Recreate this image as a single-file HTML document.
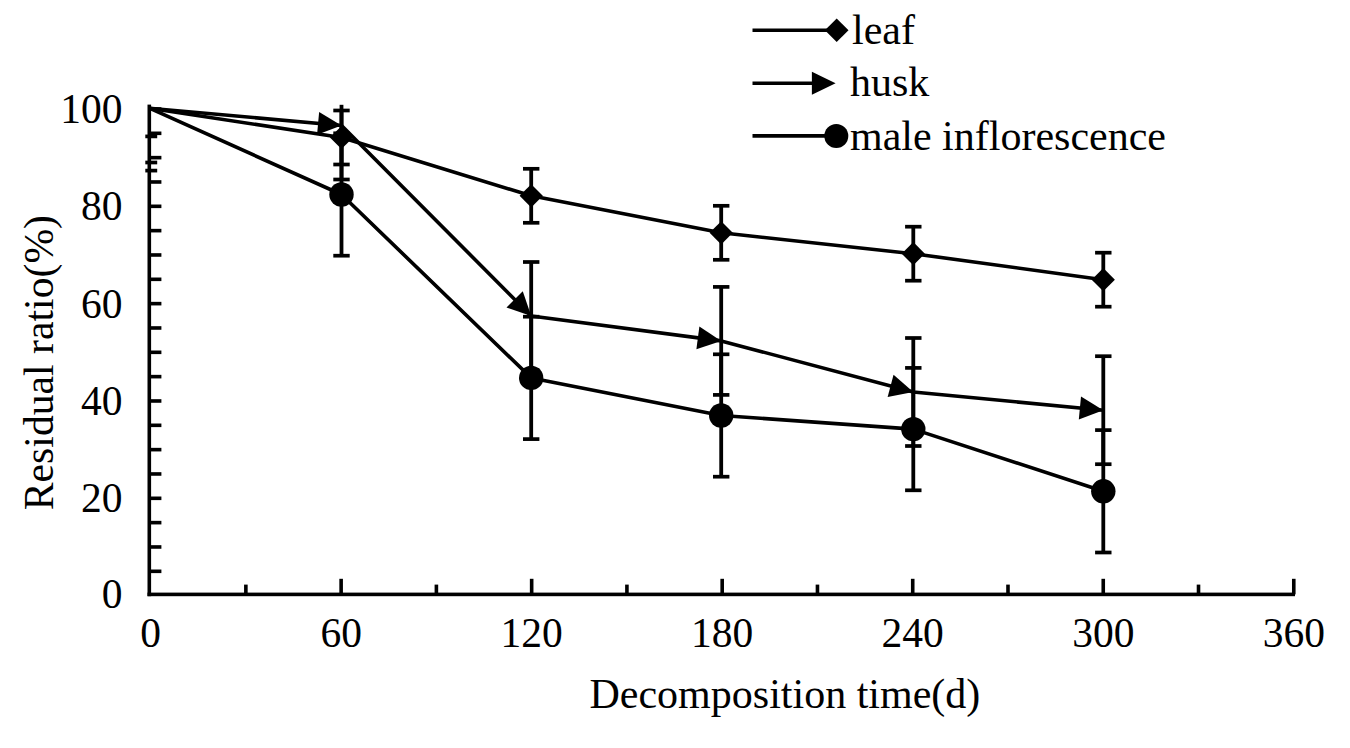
<!DOCTYPE html>
<html><head><meta charset="utf-8"><style>
html,body{margin:0;padding:0;background:#fff;width:1350px;height:748px;overflow:hidden;font-family:"Liberation Serif",serif;}
svg{display:block;}
</style></head><body><svg width="1350" height="748" viewBox="0 0 1350 748"><rect x="147.50" y="104.60" width="3.60" height="491.60" fill="#000"/><rect x="147.50" y="592.60" width="1147.50" height="3.60" fill="#000"/><rect x="149.30" y="569.51" width="12.10" height="3.60" fill="#000"/><rect x="149.30" y="545.17" width="12.10" height="3.60" fill="#000"/><rect x="149.30" y="520.84" width="12.10" height="3.60" fill="#000"/><rect x="149.30" y="496.51" width="12.10" height="3.60" fill="#000"/><rect x="149.30" y="472.17" width="12.10" height="3.60" fill="#000"/><rect x="149.30" y="447.84" width="12.10" height="3.60" fill="#000"/><rect x="149.30" y="423.51" width="12.10" height="3.60" fill="#000"/><rect x="149.30" y="399.18" width="12.10" height="3.60" fill="#000"/><rect x="149.30" y="374.84" width="12.10" height="3.60" fill="#000"/><rect x="149.30" y="350.51" width="12.10" height="3.60" fill="#000"/><rect x="149.30" y="326.18" width="12.10" height="3.60" fill="#000"/><rect x="149.30" y="301.84" width="12.10" height="3.60" fill="#000"/><rect x="149.30" y="277.51" width="12.10" height="3.60" fill="#000"/><rect x="149.30" y="253.18" width="12.10" height="3.60" fill="#000"/><rect x="149.30" y="228.84" width="12.10" height="3.60" fill="#000"/><rect x="149.30" y="204.51" width="12.10" height="3.60" fill="#000"/><rect x="149.30" y="180.18" width="12.10" height="3.60" fill="#000"/><rect x="149.30" y="155.85" width="12.10" height="3.60" fill="#000"/><rect x="149.30" y="131.51" width="12.10" height="3.60" fill="#000"/><rect x="149.30" y="107.18" width="12.10" height="3.60" fill="#000"/><rect x="244.06" y="584.60" width="3.60" height="9.80" fill="#000"/><rect x="339.33" y="578.80" width="3.60" height="15.60" fill="#000"/><rect x="434.59" y="584.60" width="3.60" height="9.80" fill="#000"/><rect x="529.86" y="578.80" width="3.60" height="15.60" fill="#000"/><rect x="625.12" y="584.60" width="3.60" height="9.80" fill="#000"/><rect x="720.39" y="578.80" width="3.60" height="15.60" fill="#000"/><rect x="815.66" y="584.60" width="3.60" height="9.80" fill="#000"/><rect x="910.92" y="578.80" width="3.60" height="15.60" fill="#000"/><rect x="1006.19" y="584.60" width="3.60" height="9.80" fill="#000"/><rect x="1101.45" y="578.80" width="3.60" height="15.60" fill="#000"/><rect x="1196.71" y="584.60" width="3.60" height="9.80" fill="#000"/><rect x="1291.98" y="578.80" width="3.60" height="15.60" fill="#000"/><rect x="145.30" y="134.55" width="11.90" height="3.70" fill="#000"/><rect x="339.60" y="110.50" width="3.80" height="54.00" fill="#000"/><rect x="333.30" y="108.65" width="16.40" height="3.70" fill="#000"/><rect x="333.30" y="162.65" width="16.40" height="3.70" fill="#000"/><rect x="529.30" y="168.80" width="3.80" height="54.00" fill="#000"/><rect x="523.00" y="166.95" width="16.40" height="3.70" fill="#000"/><rect x="523.00" y="220.95" width="16.40" height="3.70" fill="#000"/><rect x="719.30" y="205.80" width="3.80" height="54.00" fill="#000"/><rect x="713.00" y="203.95" width="16.40" height="3.70" fill="#000"/><rect x="713.00" y="257.95" width="16.40" height="3.70" fill="#000"/><rect x="911.40" y="226.70" width="3.80" height="54.00" fill="#000"/><rect x="905.10" y="224.85" width="16.40" height="3.70" fill="#000"/><rect x="905.10" y="278.85" width="16.40" height="3.70" fill="#000"/><rect x="1101.40" y="252.70" width="3.80" height="54.00" fill="#000"/><rect x="1095.10" y="250.85" width="16.40" height="3.70" fill="#000"/><rect x="1095.10" y="304.85" width="16.40" height="3.70" fill="#000"/><rect x="145.30" y="160.65" width="11.90" height="3.70" fill="#000"/><rect x="339.60" y="104.80" width="3.80" height="74.70" fill="#000"/><rect x="333.30" y="177.65" width="16.40" height="3.70" fill="#000"/><rect x="529.30" y="262.00" width="3.80" height="108.00" fill="#000"/><rect x="523.00" y="260.15" width="16.40" height="3.70" fill="#000"/><rect x="523.00" y="368.15" width="16.40" height="3.70" fill="#000"/><rect x="719.30" y="286.90" width="3.80" height="108.00" fill="#000"/><rect x="713.00" y="285.05" width="16.40" height="3.70" fill="#000"/><rect x="713.00" y="393.05" width="16.40" height="3.70" fill="#000"/><rect x="911.40" y="338.00" width="3.80" height="108.00" fill="#000"/><rect x="905.10" y="336.15" width="16.40" height="3.70" fill="#000"/><rect x="905.10" y="444.15" width="16.40" height="3.70" fill="#000"/><rect x="1101.40" y="356.20" width="3.80" height="108.00" fill="#000"/><rect x="1095.10" y="354.35" width="16.40" height="3.70" fill="#000"/><rect x="1095.10" y="462.35" width="16.40" height="3.70" fill="#000"/><rect x="145.30" y="168.75" width="11.90" height="3.70" fill="#000"/><rect x="339.60" y="133.30" width="3.80" height="122.40" fill="#000"/><rect x="333.30" y="131.45" width="16.40" height="3.70" fill="#000"/><rect x="333.30" y="253.85" width="16.40" height="3.70" fill="#000"/><rect x="529.30" y="316.70" width="3.80" height="122.40" fill="#000"/><rect x="523.00" y="314.85" width="16.40" height="3.70" fill="#000"/><rect x="523.00" y="437.25" width="16.40" height="3.70" fill="#000"/><rect x="719.30" y="354.30" width="3.80" height="122.40" fill="#000"/><rect x="713.00" y="352.45" width="16.40" height="3.70" fill="#000"/><rect x="713.00" y="474.85" width="16.40" height="3.70" fill="#000"/><rect x="911.40" y="367.90" width="3.80" height="122.40" fill="#000"/><rect x="905.10" y="366.05" width="16.40" height="3.70" fill="#000"/><rect x="905.10" y="488.45" width="16.40" height="3.70" fill="#000"/><rect x="1101.40" y="430.10" width="3.80" height="122.40" fill="#000"/><rect x="1095.10" y="428.25" width="16.40" height="3.70" fill="#000"/><rect x="1095.10" y="550.65" width="16.40" height="3.70" fill="#000"/><polyline points="149.40,108.20 341.50,137.50 531.20,195.80 721.20,232.80 913.30,253.70 1103.30,279.70" fill="none" stroke="#000" stroke-width="3.6" stroke-linejoin="round"/><polyline points="149.40,108.20 341.50,125.50 531.20,316.00 721.20,340.90 913.30,392.00 1103.30,410.20" fill="none" stroke="#000" stroke-width="3.6" stroke-linejoin="round"/><polyline points="149.40,108.20 341.50,194.50 531.20,377.90 721.20,415.50 913.30,429.10 1103.30,491.30" fill="none" stroke="#000" stroke-width="3.6" stroke-linejoin="round"/><polygon points="329.90,137.50 341.50,125.90 353.10,137.50 341.50,149.10" fill="#000"/><polygon points="519.60,195.80 531.20,184.20 542.80,195.80 531.20,207.40" fill="#000"/><polygon points="709.60,232.80 721.20,221.20 732.80,232.80 721.20,244.40" fill="#000"/><polygon points="901.70,253.70 913.30,242.10 924.90,253.70 913.30,265.30" fill="#000"/><polygon points="1091.70,279.70 1103.30,268.10 1114.90,279.70 1103.30,291.30" fill="#000"/><circle cx="341.50" cy="194.50" r="12.2" fill="#000"/><circle cx="531.20" cy="377.90" r="12.2" fill="#000"/><circle cx="721.20" cy="415.50" r="12.2" fill="#000"/><circle cx="913.30" cy="429.10" r="12.2" fill="#000"/><circle cx="1103.30" cy="491.30" r="12.2" fill="#000"/><polygon points="341.50,125.50 317.06,134.85 319.13,111.94" fill="#000"/><polygon points="531.20,316.00 506.47,307.46 522.77,291.23" fill="#000"/><polygon points="721.20,340.90 696.40,349.25 699.39,326.44" fill="#000"/><polygon points="913.30,392.00 887.63,397.07 893.55,374.85" fill="#000"/><polygon points="1103.30,410.20 1078.81,419.41 1081.00,396.51" fill="#000"/><line x1="752.50" y1="30.30" x2="836.00" y2="30.30" stroke="#000" stroke-width="3.6" stroke-linecap="butt"/><polygon points="824.90,30.30 836.70,18.50 848.50,30.30 836.70,42.10" fill="#000"/><line x1="752.50" y1="83.20" x2="815.00" y2="83.20" stroke="#000" stroke-width="3.6" stroke-linecap="butt"/><polygon points="835.60,83.20 811.90,94.70 811.90,71.70" fill="#000"/><line x1="752.50" y1="135.90" x2="830.00" y2="135.90" stroke="#000" stroke-width="3.6" stroke-linecap="butt"/><circle cx="836.30" cy="135.90" r="12.0" fill="#000"/><text x="122.50" y="608.30" font-family="Liberation Serif, serif" font-size="41.5" text-anchor="end" >0</text><text x="122.50" y="512.21" font-family="Liberation Serif, serif" font-size="41.5" text-anchor="end" >20</text><text x="122.50" y="414.88" font-family="Liberation Serif, serif" font-size="41.5" text-anchor="end" >40</text><text x="122.50" y="317.54" font-family="Liberation Serif, serif" font-size="41.5" text-anchor="end" >60</text><text x="122.50" y="220.21" font-family="Liberation Serif, serif" font-size="41.5" text-anchor="end" >80</text><text x="122.50" y="122.88" font-family="Liberation Serif, serif" font-size="41.5" text-anchor="end" >100</text><text x="150.60" y="646.60" font-family="Liberation Serif, serif" font-size="41.5" text-anchor="middle" >0</text><text x="341.13" y="646.60" font-family="Liberation Serif, serif" font-size="41.5" text-anchor="middle" >60</text><text x="531.66" y="646.60" font-family="Liberation Serif, serif" font-size="41.5" text-anchor="middle" >120</text><text x="722.19" y="646.60" font-family="Liberation Serif, serif" font-size="41.5" text-anchor="middle" >180</text><text x="912.72" y="646.60" font-family="Liberation Serif, serif" font-size="41.5" text-anchor="middle" >240</text><text x="1103.25" y="646.60" font-family="Liberation Serif, serif" font-size="41.5" text-anchor="middle" >300</text><text x="1293.78" y="646.60" font-family="Liberation Serif, serif" font-size="41.5" text-anchor="middle" >360</text><text x="589.50" y="708.30" font-family="Liberation Serif, serif" font-size="42" text-anchor="start" >Decomposition time(d)</text><text x="0" y="0" font-family="Liberation Serif, serif" font-size="41.7" transform="translate(52.8,510.2) rotate(-90)">Residual ratio(%)</text><text x="852.00" y="43.70" font-family="Liberation Serif, serif" font-size="42" text-anchor="start" >leaf</text><text x="850.00" y="96.30" font-family="Liberation Serif, serif" font-size="42" text-anchor="start" >husk</text><text x="850.00" y="150.00" font-family="Liberation Serif, serif" font-size="42" text-anchor="start" >male inflorescence</text></svg></body></html>
